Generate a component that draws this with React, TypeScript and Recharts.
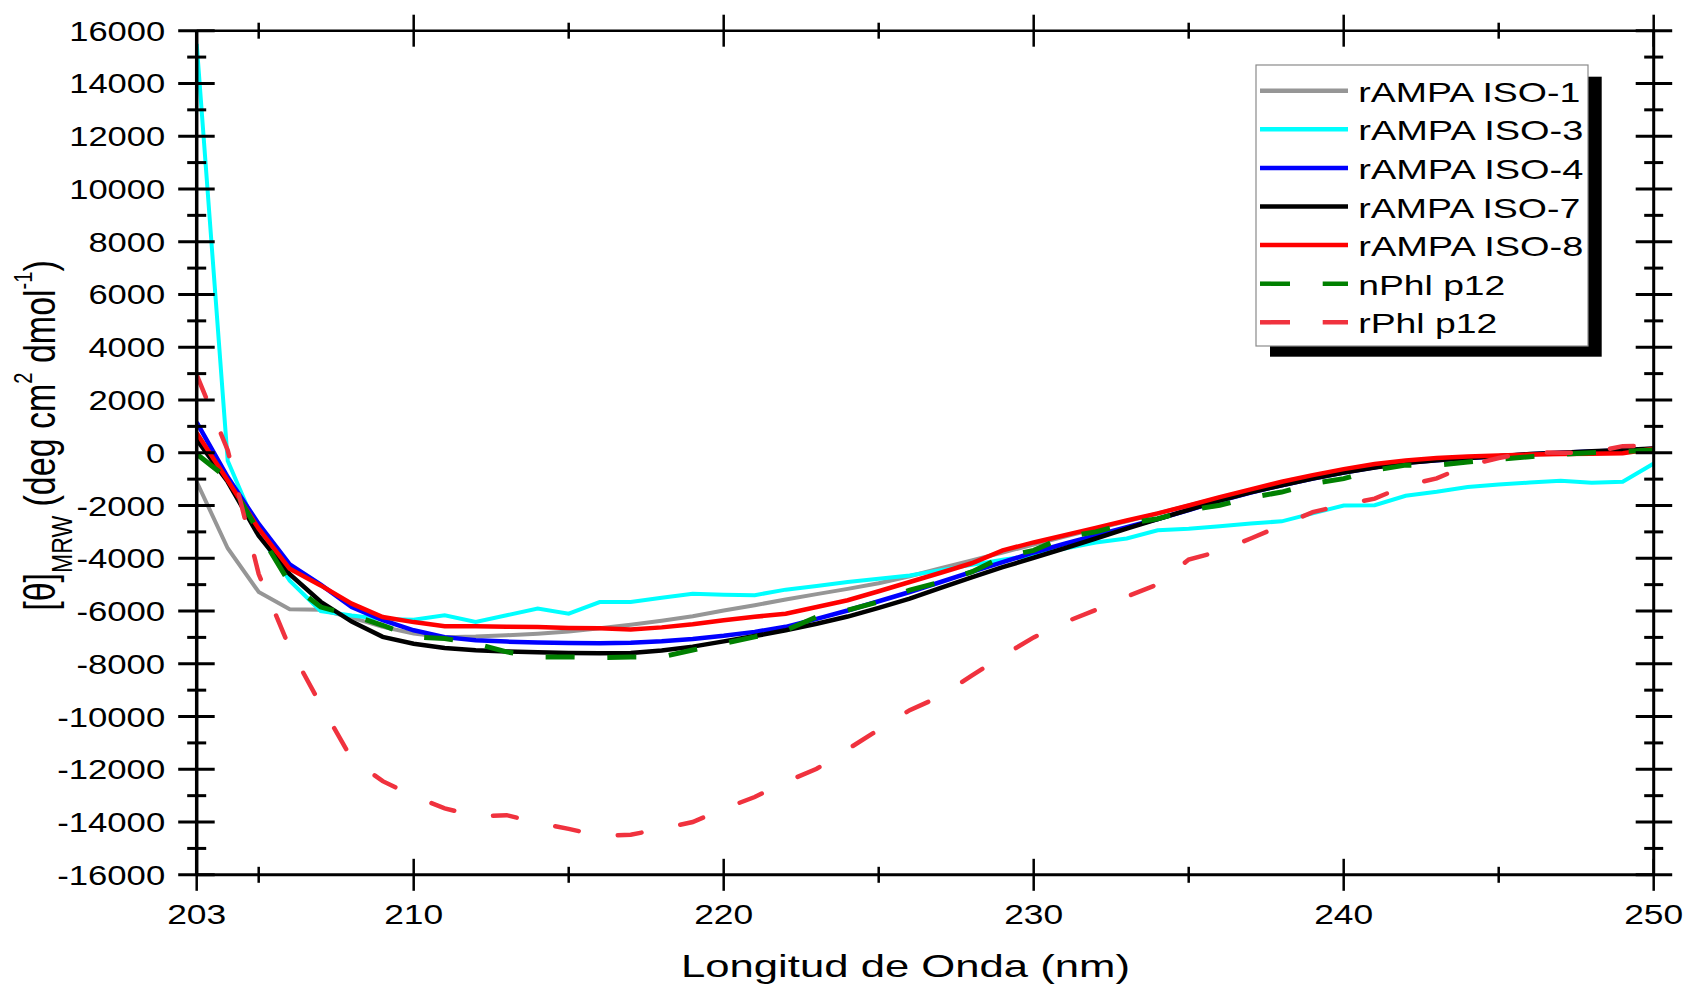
import React from 'react';
import { LineChart, Line, XAxis, YAxis, Legend } from 'recharts';

const wavelengths = [203,204,205,206,207,208,209,210,211,212,213,214,215,216,217,218,219,220,221,222,223,224,225,226,227,228,229,230,231,232,233,234,235,236,237,238,239,240,241,242,243,244,245,246,247,248,249,250];

const iso1 = [-1100,-3620,-5280,-5930,-5950,-6250,-6600,-6850,-6990,-6970,-6920,-6860,-6780,-6650,-6520,-6370,-6200,-5980,-5780,-5560,-5360,-5160,-4950,-4680,-4380,-4080,-3780,-3480,-3180,-2880,-2600,-2300,-2000,-1700,-1420,-1150,-900,-700,-500,-350,-250,-170,-120,-80,-40,0,50,100];
const iso3 = [15500,-300,-3050,-4850,-6000,-6170,-6300,-6330,-6160,-6410,-6160,-5910,-6100,-5660,-5660,-5500,-5350,-5380,-5400,-5190,-5050,-4900,-4780,-4650,-4450,-4250,-4060,-3890,-3630,-3400,-3250,-2940,-2880,-2790,-2680,-2600,-2300,-2000,-1990,-1630,-1480,-1300,-1200,-1130,-1060,-1140,-1100,-410];
const iso4 = [1150,-920,-2700,-4230,-5000,-5850,-6350,-6730,-6990,-7110,-7160,-7190,-7210,-7220,-7200,-7150,-7060,-6940,-6790,-6600,-6300,-5980,-5630,-5280,-4900,-4520,-4150,-3780,-3450,-3130,-2820,-2510,-2170,-1820,-1510,-1230,-980,-750,-550,-380,-280,-200,-130,-60,0,50,90,150];
const iso7 = [500,-1100,-3150,-4600,-5650,-6400,-6980,-7240,-7400,-7490,-7530,-7565,-7590,-7600,-7590,-7500,-7350,-7150,-6950,-6730,-6480,-6210,-5880,-5530,-5120,-4720,-4340,-3980,-3620,-3250,-2880,-2520,-2160,-1810,-1500,-1230,-980,-750,-560,-390,-280,-200,-130,-50,0,60,100,160];
const iso8 = [750,-1050,-2880,-4400,-5030,-5720,-6230,-6420,-6580,-6580,-6600,-6610,-6640,-6650,-6700,-6620,-6500,-6350,-6220,-6100,-5850,-5590,-5250,-4900,-4550,-4190,-3700,-3400,-3130,-2850,-2570,-2300,-2000,-1680,-1390,-1100,-850,-620,-430,-290,-200,-140,-100,-70,-50,-40,-20,150];
const nPhl = [-50,-980,-3000,-4950,-5850,-6160,-6540,-6980,-7040,-7240,-7550,-7740,-7740,-7770,-7740,-7740,-7480,-7230,-6980,-6730,-6220,-5970,-5650,-5210,-4900,-4520,-3950,-3700,-3190,-3000,-2690,-2500,-2180,-1990,-1700,-1490,-1170,-980,-660,-470,-470,-350,-250,-150,-60,0,50,100];
const rPhl = [2950,100,-4600,-7400,-9550,-11600,-12450,-13020,-13480,-13780,-13740,-14030,-14260,-14520,-14480,-14250,-14000,-13500,-13050,-12480,-11980,-11240,-10500,-9760,-9230,-8450,-7700,-7000,-6430,-5960,-5450,-4990,-4050,-3730,-3250,-2760,-2250,-1980,-1740,-1240,-970,-480,-200,30,0,10,250,260];

const seriesNames = ['rAMPA ISO-1','rAMPA ISO-3','rAMPA ISO-4','rAMPA ISO-7','rAMPA ISO-8','nPhl p12','rPhl p12'];
const xTicksBottom = [203,205,210,215,220,225,230,235,240,245,250];
const xTicksTop = [205,210,215,220,225,230,235,240,245,250];
const xTickLabels = [203,210,220,230,240,250];
const yTicks = [-16000,-15000,-14000,-13000,-12000,-11000,-10000,-9000,-8000,-7000,-6000,-5000,-4000,-3000,-2000,-1000,0,1000,2000,3000,4000,5000,6000,7000,8000,9000,10000,11000,12000,13000,14000,15000,16000];
const xTitle = 'Longitud de Onda (nm)';

const FONT = '"Liberation Sans", Arial, Helvetica, sans-serif';

const keys = ['iso1','iso3','iso4','iso7','iso8','nphl','rphl'];
const valueLists = [iso1, iso3, iso4, iso7, iso8, nPhl, rPhl];
const data = wavelengths.map((nm, i) => {
  const row: any = { nm };
  keys.forEach((k, j) => { row[k] = valueLists[j][i]; });
  return row;
});

const styles = [
  { color: '#969696', width: 4, dash: undefined as string | undefined, cap: 'butt' },
  { color: '#00ffff', width: 4, dash: undefined, cap: 'butt' },
  { color: '#0000ff', width: 4.5, dash: undefined, cap: 'butt' },
  { color: '#000000', width: 4.5, dash: undefined, cap: 'butt' },
  { color: '#ff0000', width: 4.5, dash: undefined, cap: 'butt' },
  { color: '#008000', width: 5, dash: '29 32.7', cap: 'butt' },
  { color: '#f0323e', width: 4.5, dash: '24 39.5', cap: 'round' },
];

const LeftTick = (p: any) => {
  const { x, y, payload } = p;
  const v = payload.value;
  const major = v % 2000 === 0;
  const s = String(v);
  const digits = s.replace('-', '').length;
  const tl = digits * 19.2 + (v < 0 ? 12 : 0);
  return (
    <g>
      <line x1={x - (major ? 18.5 : 9.5)} x2={x + (major ? 18 : 9.5)} y1={y} y2={y} stroke="#000" strokeWidth={3} />
      {major && (
        <text x={x - 31.5} y={y + 10} textAnchor="end" fontSize={28} fontFamily={FONT} fill="#000"
          textLength={tl} lengthAdjust="spacingAndGlyphs">{s}</text>
      )}
    </g>
  );
};

const RightTick = (p: any) => {
  const { x, y, payload } = p;
  const major = payload.value % 2000 === 0;
  return <line x1={x - (major ? 18 : 9.5)} x2={x + (major ? 18.5 : 9.5)} y1={y} y2={y} stroke="#000" strokeWidth={3} />;
};

const BottomTick = (p: any) => {
  const { x, y, payload } = p;
  const v = payload.value;
  const major = v % 10 === 0 || v === 203;
  return (
    <g>
      <line x1={x} x2={x} y1={y - (major ? 16 : 8)} y2={y + (major ? 16 : 8)} stroke="#000" strokeWidth={2.5} />
      {xTickLabels.includes(v) && (
        <text x={x} y={y + 48.7} textAnchor="middle" fontSize={28} fontFamily={FONT} fill="#000"
          textLength={59} lengthAdjust="spacingAndGlyphs">{String(v)}</text>
      )}
    </g>
  );
};

const TopTick = (p: any) => {
  const { x, y, payload } = p;
  const major = payload.value % 10 === 0;
  return <line x1={x} x2={x} y1={y - (major ? 16 : 8)} y2={y + (major ? 16 : 8)} stroke="#000" strokeWidth={2.5} />;
};

const XTitle = () => (
  <text x={905.5} y={977} textAnchor="middle" fontSize={32} fontFamily={FONT} fill="#000"
    textLength={449} lengthAdjust="spacingAndGlyphs">{xTitle}</text>
);

const YTitle = () => (
  <text transform="translate(55,435.5) scale(1.28,1) rotate(-90)" textAnchor="middle" fontSize={34} fontFamily={FONT} fill="#000">
    <tspan>[θ]</tspan>
    <tspan fontSize={23} dy={13}>MRW</tspan>
    <tspan dy={-13}> (deg cm</tspan>
    <tspan fontSize={20} dy={-18}>2</tspan>
    <tspan dy={18}> dmol</tspan>
    <tspan fontSize={20} dy={-18}>-1</tspan>
    <tspan dy={18}>)</tspan>
  </text>
);

const legendTextLen = [222, 225, 225, 222, 225, 147, 139];

const LegendBox = () => (
  <svg width={360} height={305} style={{ display: 'block' }}>
    <rect x={20} y={16.7} width={331.7} height={280} fill="#000" />
    <rect x={6} y={5} width={332} height={281} fill="#fff" stroke="#8a8a8a" strokeWidth={1.2} />
    {seriesNames.map((name, i) => {
      const cy = 30.7 + i * 38.6;
      const st = styles[i];
      return (
        <g key={name}>
          <line x1={10} x2={98} y1={cy} y2={cy} stroke={st.color} strokeWidth={4.5}
            strokeDasharray={st.dash ? '30 32.7' : undefined} strokeLinecap="butt" />
          <text x={108.3} y={cy + 11} fontSize={28} fontFamily={FONT} fill="#000"
            textLength={legendTextLen[i]} lengthAdjust="spacingAndGlyphs">{name}</text>
        </g>
      );
    })}
  </svg>
);

export default function App() {
  return (
    <div style={{ position: 'absolute', left: 0, top: 0, width: 1687, height: 985, background: '#fff', fontFamily: FONT }}>
      <LineChart width={1687} height={985} data={data}
        margin={{ top: 20.7, right: 23.3, bottom: 50.2, left: 96.7 }}>
        <XAxis dataKey="nm" type="number" domain={[203, 250]} ticks={xTicksBottom} interval={0}
          allowDataOverflow height={60} tickSize={0} tickMargin={0} tickLine={false}
          axisLine={{ stroke: '#000', strokeWidth: 3 }} tick={(p: any) => <BottomTick {...p} />}
          label={<XTitle />} />
        <XAxis xAxisId="top" orientation="top" dataKey="nm" type="number" domain={[203, 250]} ticks={xTicksTop}
          interval={0} allowDataOverflow height={10} tickSize={0} tickMargin={0} tickLine={false}
          axisLine={{ stroke: '#000', strokeWidth: 2.5 }} tick={(p: any) => <TopTick {...p} />} />
        <YAxis type="number" domain={[-16000, 16000]} ticks={yTicks} interval={0} allowDataOverflow
          width={100} tickSize={0} tickMargin={0} tickLine={false}
          axisLine={{ stroke: '#000', strokeWidth: 3.5 }} tick={(p: any) => <LeftTick {...p} />}
          label={<YTitle />} />
        <YAxis yAxisId="right" orientation="right" type="number" domain={[-16000, 16000]} ticks={yTicks}
          interval={0} allowDataOverflow width={10} tickSize={0} tickMargin={0} tickLine={false}
          axisLine={{ stroke: '#000', strokeWidth: 3 }} tick={(p: any) => <RightTick {...p} />} />
        <Legend layout="vertical" align="center" verticalAlign="middle"
          wrapperStyle={{ left: 1250, top: 60, width: 360, height: 305 }} content={() => <LegendBox />} />
        {keys.map((k, i) => (
          <Line key={k} dataKey={k} name={seriesNames[i]} type="linear" stroke={styles[i].color}
            strokeWidth={styles[i].width} strokeDasharray={styles[i].dash} strokeLinecap={styles[i].cap as any}
            dot={false} activeDot={false} isAnimationActive={false} />
        ))}
      </LineChart>
    </div>
  );
}
